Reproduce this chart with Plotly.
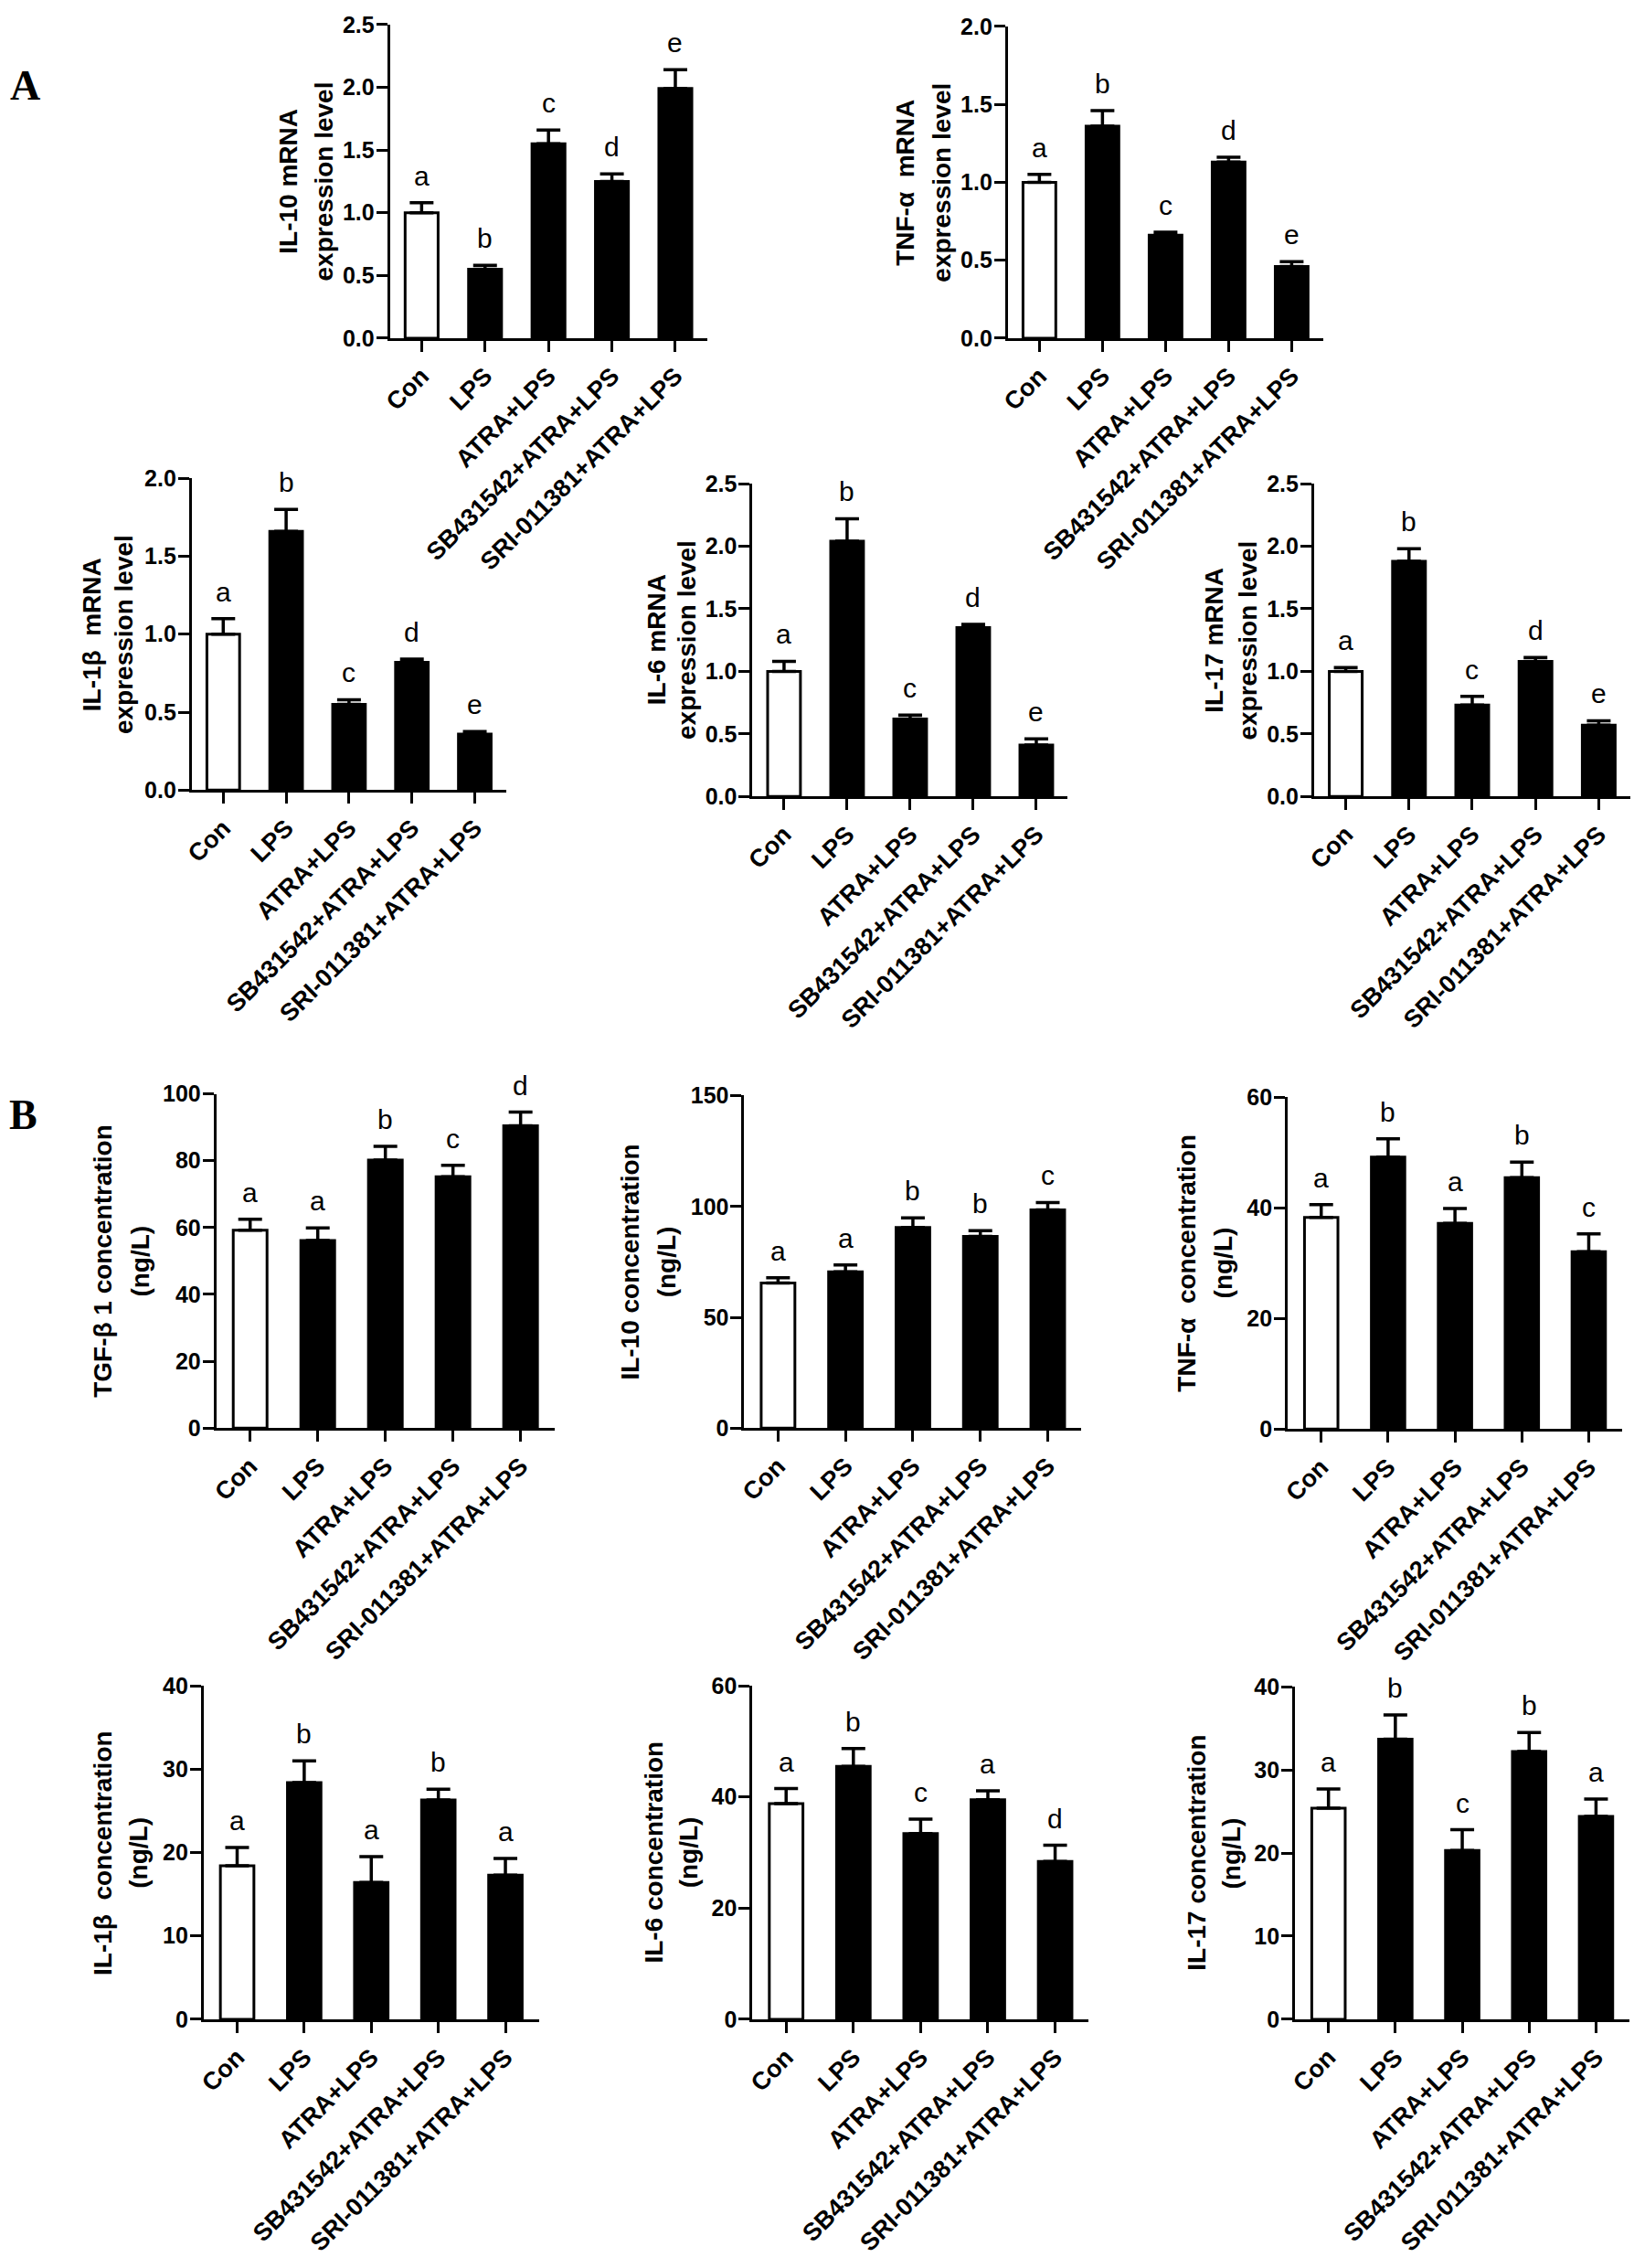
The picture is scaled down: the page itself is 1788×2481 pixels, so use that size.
import plotly.graph_objects as go

W, H = 1788, 2481

categories = ["Con", "LPS", "ATRA+LPS", "SB431542+ATRA+LPS", "SRI-011381+ATRA+LPS"]

# Panel A: mRNA expression level
il10_mrna = [1.00, 0.55, 1.55, 1.25, 1.99]
il10_mrna_err = [0.08, 0.03, 0.11, 0.06, 0.15]
il10_mrna_letters = ["a", "b", "c", "d", "e"]

tnfa_mrna = [1.00, 1.36, 0.66, 1.13, 0.46]
tnfa_mrna_err = [0.05, 0.10, 0.02, 0.03, 0.03]
tnfa_mrna_letters = ["a", "b", "c", "d", "e"]

il1b_mrna = [1.00, 1.66, 0.55, 0.82, 0.36]
il1b_mrna_err = [0.10, 0.14, 0.03, 0.02, 0.015]
il1b_mrna_letters = ["a", "b", "c", "d", "e"]

il6_mrna = [1.00, 2.04, 0.62, 1.35, 0.41]
il6_mrna_err = [0.08, 0.18, 0.03, 0.025, 0.05]
il6_mrna_letters = ["a", "b", "c", "d", "e"]

il17_mrna = [1.00, 1.88, 0.73, 1.08, 0.57]
il17_mrna_err = [0.03, 0.10, 0.07, 0.03, 0.035]
il17_mrna_letters = ["a", "b", "c", "d", "e"]

# Panel B: concentrations (ng/L)
tgfb1_conc = [59.2, 56.1, 80.2, 75.2, 90.4]
tgfb1_conc_err = [3.3, 3.8, 4.1, 3.4, 4.1]
tgfb1_conc_letters = ["a", "a", "b", "c", "d"]

il10_conc = [65.5, 70.5, 90.5, 86.5, 98.5]
il10_conc_err = [2.3, 3.1, 4.4, 2.6, 3.3]
il10_conc_letters = ["a", "a", "b", "b", "c"]

tnfa_conc = [38.3, 49.2, 37.2, 45.5, 32.1]
tnfa_conc_err = [2.3, 3.3, 2.7, 2.8, 3.2]
tnfa_conc_letters = ["a", "b", "a", "b", "c"]

il1b_conc = [18.4, 28.4, 16.4, 26.3, 17.3]
il1b_conc_err = [2.2, 2.6, 3.1, 1.3, 2.0]
il1b_conc_letters = ["a", "b", "a", "b", "a"]

il6_conc = [38.8, 45.5, 33.4, 39.5, 28.4]
il6_conc_err = [2.7, 3.2, 2.6, 1.6, 2.9]
il6_conc_letters = ["a", "b", "c", "a", "d"]

il17_conc = [25.4, 33.7, 20.3, 32.2, 24.4]
il17_conc_err = [2.3, 2.9, 2.5, 2.3, 2.1]
il17_conc_letters = ["a", "b", "c", "b", "a"]

# y-axis tick values
ticks_a25 = [0.0, 0.5, 1.0, 1.5, 2.0, 2.5]
ticks_a20 = [0.0, 0.5, 1.0, 1.5, 2.0]
ticks_100 = [0, 20, 40, 60, 80, 100]
ticks_150 = [0, 50, 100, 150]
ticks_60 = [0, 20, 40, 60]
ticks_40 = [0, 10, 20, 30, 40]

# y-axis titles (two lines each)
titles = [
    ("IL-10 mRNA", "expression level"),
    ("TNF-\u03b1\u00a0 mRNA", "expression level"),
    ("IL-1\u03b2\u00a0 mRNA", "expression level"),
    ("IL-6 mRNA", "expression level"),
    ("IL-17 mRNA", "expression level"),
    ("TGF-\u03b2 1 concentration", "(ng/L)"),
    ("IL-10 concentration", "(ng/L)"),
    ("TNF-\u03b1\u00a0 concentration", "(ng/L)"),
    ("IL-1\u03b2\u00a0 concentration", "(ng/L)"),
    ("IL-6 concentration", "(ng/L)"),
    ("IL-17 concentration", "(ng/L)"),
]

series = [
    (il10_mrna, il10_mrna_err, il10_mrna_letters, ticks_a25),
    (tnfa_mrna, tnfa_mrna_err, tnfa_mrna_letters, ticks_a20),
    (il1b_mrna, il1b_mrna_err, il1b_mrna_letters, ticks_a20),
    (il6_mrna, il6_mrna_err, il6_mrna_letters, ticks_a25),
    (il17_mrna, il17_mrna_err, il17_mrna_letters, ticks_a25),
    (tgfb1_conc, tgfb1_conc_err, tgfb1_conc_letters, ticks_100),
    (il10_conc, il10_conc_err, il10_conc_letters, ticks_150),
    (tnfa_conc, tnfa_conc_err, tnfa_conc_letters, ticks_60),
    (il1b_conc, il1b_conc_err, il1b_conc_letters, ticks_40),
    (il6_conc, il6_conc_err, il6_conc_letters, ticks_60),
    (il17_conc, il17_conc_err, il17_conc_letters, ticks_40),
]

# layout geometry in pixels: (axis left, axis right, axis top, axis bottom, title line1 x, title line2 x)
geom = [
    (419, 768, 13, 360, 307, 346),
    (1099, 1446, 15, 360, 986, 1026),
    (201, 547, 515, 860, 91, 126),
    (818, 1165, 521, 867, 712, 745),
    (1436, 1784, 521, 867, 1326, 1363),
    (228, 600, 1196, 1566, 103, 144),
    (809, 1180, 1198, 1566, 683, 723),
    (1407, 1775, 1200, 1567, 1296, 1336),
    (214, 583, 1851, 2220, 103, 142),
    (818, 1188, 1851, 2220, 709, 748),
    (1415, 1783, 1852, 2220, 1306, 1345),
]

SANS = "Liberation Sans, Arial, sans-serif"
SERIF = "Liberation Serif, Times New Roman, serif"

fig = go.Figure()
annotations = []
layout = dict(
    width=W, height=H,
    margin=dict(l=0, r=0, t=0, b=0),
    paper_bgcolor="white", plot_bgcolor="white",
    showlegend=False,
)

for i, ((vals, errs, letters, ticks), (xl, xr, yt, yb, t1x, t2x), (t1, t2)) in enumerate(zip(series, geom, titles)):
    n = i + 1
    xa = "x" if n == 1 else f"x{n}"
    ya = "y" if n == 1 else f"y{n}"
    is_a = i < 5
    fig.add_trace(go.Bar(
        x=categories, y=vals, xaxis=xa, yaxis=ya,
        width=0.52 if is_a else 0.5,
        marker=dict(color=["white"] + ["black"] * 4, line=dict(color="black", width=3)),
        error_y=dict(type="data", array=errs, arrayminus=[0] * len(errs), symmetric=False,
                     color="black", thickness=3.5, width=13),
        cliponaxis=False,
    ))
    ymax = ticks[-1]
    fmt = ".1f" if is_a else "d"
    layout["xaxis" if n == 1 else f"xaxis{n}"] = dict(
        domain=[xl / W, xr / W], anchor=ya, type="category",
        categoryorder="array", categoryarray=categories,
        range=[-0.5, 4.5], showline=True, linewidth=3, linecolor="black",
        ticks="outside", ticklen=12, tickwidth=3, tickcolor="black",
        tickangle=-45, showgrid=False, zeroline=False,
        tickfont=dict(family=SANS, size=27, color="black", weight="bold"),
    )
    layout["yaxis" if n == 1 else f"yaxis{n}"] = dict(
        domain=[1 - yb / H, 1 - yt / H], anchor=xa,
        range=[0, ymax], tickvals=ticks, tickformat=fmt,
        showline=True, linewidth=3, linecolor="black",
        ticks="outside", ticklen=12, tickwidth=3, tickcolor="black",
        ticklabelstandoff=-3,
        showgrid=False, zeroline=False,
        tickfont=dict(family=SANS, size=25, color="black", weight="bold"),
    )
    # significance letters
    for c, v, e, L in zip(categories, vals, errs, letters):
        annotations.append(dict(
            x=c, y=v + e, xref=xa, yref=ya, text=L, showarrow=False,
            xanchor="center", yanchor="bottom", yshift=11,
            font=dict(family=SANS, size=30, color="black"),
        ))
    # y-axis titles (two lines)
    yc = 1 - ((yt + yb) / 2) / H
    for tx, txt in ((t1x, t1), (t2x, t2)):
        annotations.append(dict(
            x=tx / W, y=yc, xref="paper", yref="paper", text=txt, showarrow=False,
            textangle=-90, xanchor="center", yanchor="middle",
            font=dict(family=SANS, size=28, color="black", weight="bold"),
        ))

# panel letters
annotations.append(dict(x=18 / W, y=1 - 80 / H, xref="paper", yref="paper", text="A",
                        showarrow=False, xanchor="center", yanchor="middle",
                        font=dict(family=SERIF, size=46, color="black", weight="bold")))
annotations.append(dict(x=16 / W, y=1 - 1219 / H, xref="paper", yref="paper", text="B",
                        showarrow=False, xanchor="center", yanchor="middle",
                        font=dict(family=SERIF, size=46, color="black", weight="bold")))

layout["annotations"] = annotations
fig.update_layout(**layout)
fig.write_html("out.html",
               config={"displayModeBar": False},
               post_script="document.body.style.margin='0px';document.body.style.padding='0px';")
